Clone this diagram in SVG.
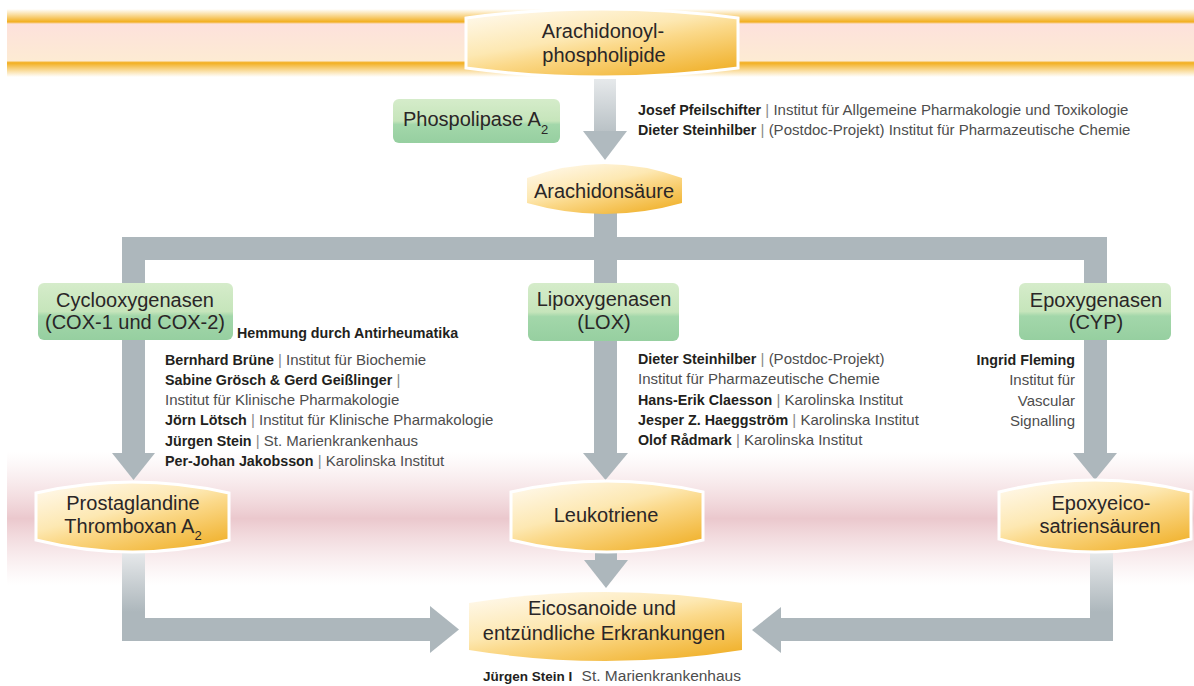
<svg xmlns="http://www.w3.org/2000/svg" width="1194" height="686" viewBox="0 0 1194 686">
<defs>
<linearGradient id="topBand" x1="0" y1="0" x2="0" y2="1">
<stop offset="0" stop-color="#f5b52a" stop-opacity="0"/>
<stop offset="0.19" stop-color="#f2ae1e"/>
<stop offset="0.22" stop-color="#fde1dc"/>
<stop offset="0.76" stop-color="#fdebd3"/>
<stop offset="0.79" stop-color="#f2ae1e"/>
<stop offset="1" stop-color="#f5b52a" stop-opacity="0"/>
</linearGradient>
<linearGradient id="pinkBand" x1="0" y1="0" x2="0" y2="1">
<stop offset="0" stop-color="#f3dadd" stop-opacity="0"/>
<stop offset="0.5" stop-color="#ebc8cd"/>
<stop offset="1" stop-color="#f3dadd" stop-opacity="0"/>
</linearGradient>
<linearGradient id="yellow" x1="0.15" y1="0" x2="0.85" y2="1">
<stop offset="0" stop-color="#fff8e9"/>
<stop offset="0.4" stop-color="#fde8b2"/>
<stop offset="0.55" stop-color="#fbd98a"/>
<stop offset="1" stop-color="#f0b029"/>
</linearGradient>
<linearGradient id="green" x1="0" y1="0" x2="0" y2="1">
<stop offset="0" stop-color="#d5ecca"/>
<stop offset="0.5" stop-color="#c6e5bb"/>
<stop offset="0.58" stop-color="#a3d7aa"/>
<stop offset="1" stop-color="#96cfa0"/>
</linearGradient>
<linearGradient id="grayTop" gradientUnits="userSpaceOnUse" x1="0" y1="79" x2="0" y2="150">
<stop offset="0" stop-color="#e6e9eb"/>
<stop offset="1" stop-color="#aab4b9"/>
</linearGradient>
<linearGradient id="grayLow" gradientUnits="userSpaceOnUse" x1="0" y1="552" x2="0" y2="612">
<stop offset="0" stop-color="#e7e9eb"/>
<stop offset="1" stop-color="#adb7bc"/>
</linearGradient>
<style>
.bar{fill:#adb7bc}
.yn{fill:url(#yellow);stroke:#ffffff;stroke-width:3}
.gn{fill:url(#green)}
.nt{font-family:"Liberation Sans",Arial,sans-serif;font-size:20px;fill:#2a2627;text-anchor:middle}
.sub{font-size:13px}
.au{font-family:"Liberation Sans",Arial,sans-serif;font-size:15px;fill:#4d4d4d}
.b{font-weight:bold;font-size:14.3px;fill:#231f20}
.sep{fill:#8a8a8a}
</style>
</defs>

<g id="bands">
<rect x="7" y="9" width="1187" height="68" fill="url(#topBand)"/>
<rect x="7" y="452" width="1187" height="133" fill="url(#pinkBand)"/>
</g>

<g id="connectors">
<rect x="594" y="79" width="22" height="53" fill="url(#grayTop)"/>
<polygon points="583,131 627,131 605,160" fill="#b0babf"/>
<path class="bar" d="M122 237 H1107 V454 H1084 V260 H617 V454 H594 V260 H145 V454 H122 Z"/>
<rect class="bar" x="594" y="205" width="23" height="33"/>
<polygon class="bar" points="112,453 155,453 133.5,480"/>
<polygon class="bar" points="583,453 628,453 605.5,480"/>
<polygon class="bar" points="1073,453 1117,453 1095,480"/>
<path d="M122 548 H145 V618 H432 V641 H122 Z" fill="url(#grayLow)"/>
<polygon class="bar" points="430,606 430,653 459,629.5"/>
<path d="M1090 548 H1113 V641 H779 V618 H1090 Z" fill="url(#grayLow)"/>
<polygon class="bar" points="781,607 781,653 752,630"/>
<rect class="bar" x="595" y="548" width="22" height="14"/>
<polygon class="bar" points="584,560 628,560 606,588"/>
</g>

<g id="node-arachidonoyl">
<path class="yn" d="M466 18 Q602 0 738 18 L738 68 Q602 86 466 68 Z"/>
<text class="nt" x="603" y="38">Arachidonoyl-</text>
<text class="nt" x="604" y="62">phospholipide</text>
</g>

<g id="node-phospholipase">
<rect class="gn" x="393" y="99" width="167" height="44" rx="6"/>
<text class="nt" x="403" y="126" style="text-anchor:start">Phospolipase A<tspan class="sub" dy="8">2</tspan></text>
</g>

<g id="text-pfeilschifter">
<text class="au" x="638" y="115"><tspan class="b">Josef Pfeilschifter</tspan><tspan class="sep"> | </tspan>Institut für Allgemeine Pharmakologie und Toxikologie</text>
<text class="au" x="638" y="135"><tspan class="b">Dieter Steinhilber</tspan><tspan class="sep"> | </tspan>(Postdoc-Projekt) Institut für Pharmazeutische Chemie</text>
</g>

<g id="node-arachidonsaeure">
<path class="yn" style="stroke:none" d="M527 178 Q604.5 150 682 178 L682 203 Q604.5 225 527 203 Z"/>
<text class="nt" x="604" y="198">Arachidonsäure</text>
</g>

<g id="node-cox">
<rect class="gn" x="38" y="283" width="195" height="57" rx="6"/>
<text class="nt" x="135" y="307">Cyclooxygenasen</text>
<text class="nt" x="135" y="329">(COX-1 und COX-2)</text>
</g>

<g id="node-lox">
<rect class="gn" x="528" y="283" width="151" height="58" rx="6"/>
<text class="nt" x="604" y="306">Lipoxygenasen</text>
<text class="nt" x="604" y="329">(LOX)</text>
</g>

<g id="node-cyp">
<rect class="gn" x="1019" y="283" width="152" height="57" rx="6"/>
<text class="nt" x="1096" y="307">Epoxygenasen</text>
<text class="nt" x="1096" y="329">(CYP)</text>
</g>

<g id="text-cox">
<text class="au" x="237" y="338"><tspan class="b">Hemmung durch Antirheumatika</tspan></text>
<text class="au" x="165" y="364.5"><tspan class="b">Bernhard Brüne</tspan><tspan class="sep"> | </tspan>Institut für Biochemie</text>
<text class="au" x="165" y="384.8"><tspan class="b">Sabine Grösch &amp; Gerd Geißlinger</tspan><tspan class="sep"> |</tspan></text>
<text class="au" x="165" y="405.1">Institut für Klinische Pharmakologie</text>
<text class="au" x="165" y="425.4"><tspan class="b">Jörn Lötsch</tspan><tspan class="sep"> | </tspan>Institut für Klinische Pharmakologie</text>
<text class="au" x="165" y="445.7"><tspan class="b">Jürgen Stein</tspan><tspan class="sep"> | </tspan>St. Marienkrankenhaus</text>
<text class="au" x="165" y="466"><tspan class="b">Per-Johan Jakobsson</tspan><tspan class="sep"> | </tspan>Karolinska Institut</text>
</g>

<g id="text-lox">
<text class="au" x="638" y="364"><tspan class="b">Dieter Steinhilber</tspan><tspan class="sep"> | </tspan>(Postdoc-Projekt)</text>
<text class="au" x="638" y="384.3">Institut für Pharmazeutische Chemie</text>
<text class="au" x="638" y="404.6"><tspan class="b">Hans-Erik Claesson</tspan><tspan class="sep"> | </tspan>Karolinska Institut</text>
<text class="au" x="638" y="424.9"><tspan class="b">Jesper Z. Haeggström</tspan><tspan class="sep"> | </tspan>Karolinska Institut</text>
<text class="au" x="638" y="445.2"><tspan class="b">Olof Rådmark</tspan><tspan class="sep"> | </tspan>Karolinska Institut</text>
</g>

<g id="text-cyp" style="text-anchor:end">
<text class="au" x="1075" y="365"><tspan class="b">Ingrid Fleming</tspan></text>
<text class="au" x="1075" y="385.3">Institut für</text>
<text class="au" x="1075" y="405.6">Vascular</text>
<text class="au" x="1075" y="426">Signalling</text>
</g>

<g id="node-prostaglandine">
<path class="yn" d="M36 493 Q132.5 471 229 493 L229 540 Q132.5 564 36 540 Z"/>
<text class="nt" x="133" y="510">Prostaglandine</text>
<text class="nt" x="133" y="533">Thromboxan A<tspan class="sub" dy="7">2</tspan></text>
</g>

<g id="node-leukotriene">
<path class="yn" d="M511 492 Q607 470 703 492 L703 540 Q607 564 511 540 Z"/>
<text class="nt" x="606" y="522">Leukotriene</text>
</g>

<g id="node-eet">
<path class="yn" d="M999 492 Q1095 468 1191 492 L1191 539 Q1095 565 999 539 Z"/>
<text class="nt" x="1101" y="510">Epoxyeico-</text>
<text class="nt" x="1100" y="533">satriensäuren</text>
</g>

<g id="node-eicosanoide">
<path class="yn" style="stroke:none" d="M469 603 Q605.5 581 742 603 L742 650 Q605.5 672 469 650 Z"/>
<text class="nt" x="602" y="615">Eicosanoide und</text>
<text class="nt" x="604" y="640">entzündliche Erkrankungen</text>
</g>

<g id="caption">
<text class="au" x="483" y="681" style="font-size:15.5px"><tspan class="b" style="font-size:13.5px">Jürgen Stein I</tspan><tspan dx="5"> St. Marienkrankenhaus</tspan></text>
</g>
</svg>
